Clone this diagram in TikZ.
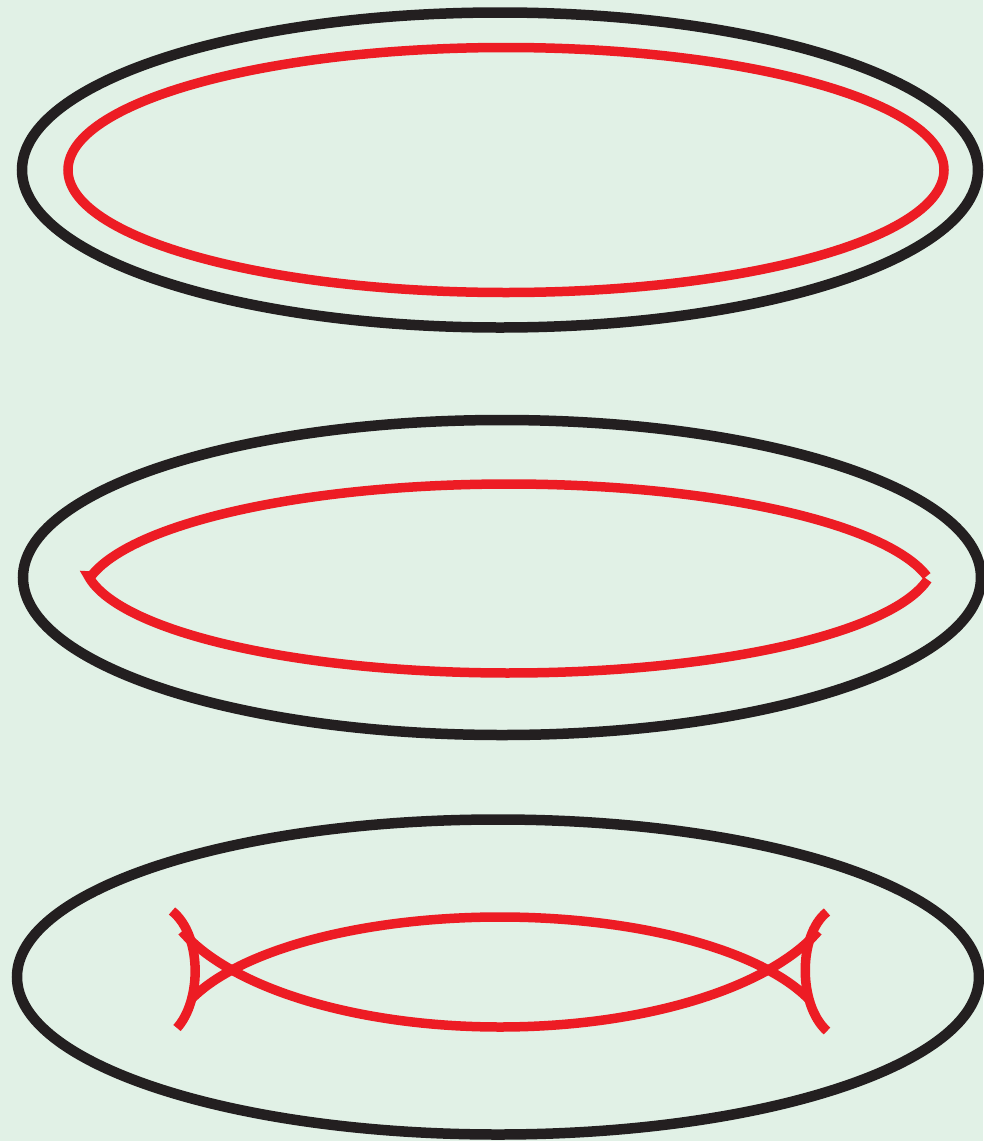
\documentclass[tikz,border=0pt]{standalone}
\definecolor{bg}{RGB}{225,241,230}
\definecolor{ink}{RGB}{35,31,32}
\definecolor{rd}{RGB}{237,28,36}
\begin{document}
\begin{tikzpicture}[x=1pt,y=-1pt,
  blk/.style={draw=ink,line width=10.5pt},
  red/.style={draw=rd,line width=9.5pt}]
\fill[bg] (0,0) rectangle (983,1141);
\useasboundingbox (0,0) rectangle (983,1141);
% top
\draw[blk] (500,170) ellipse [x radius=478pt, y radius=157.5pt];
\draw[red] (506,170) ellipse [x radius=438pt, y radius=122.5pt];
% middle
\draw[blk] (502,577.5) ellipse [x radius=479pt, y radius=157.5pt];
\draw[red,line join=miter,miter limit=10]
  plot[domain=11.9:168.1,samples=150] ({509+427*cos(\x)},{600-116*sin(\x)})
  -- plot[domain=171.9:10,samples=150] ({509+425*cos(\x)},{560+113*sin(\x)});
% bottom
\draw[blk] (498,977) ellipse [x radius=481pt, y radius=157.5pt];
\draw[red] plot[domain=159.5:20.5,samples=120] ({500+330*cos(\x)},{1044-127*sin(\x)});
\draw[red] plot[domain=200.7:339.3,samples=120] ({500+340*cos(\x)},{879-148*sin(\x)});
\draw[red] (172,911) .. controls (202,935) and (202,1000) .. (177,1028);
\draw[red] (827,912) .. controls (798,935) and (798,1005) .. (827,1031);
\end{tikzpicture}
\end{document}
